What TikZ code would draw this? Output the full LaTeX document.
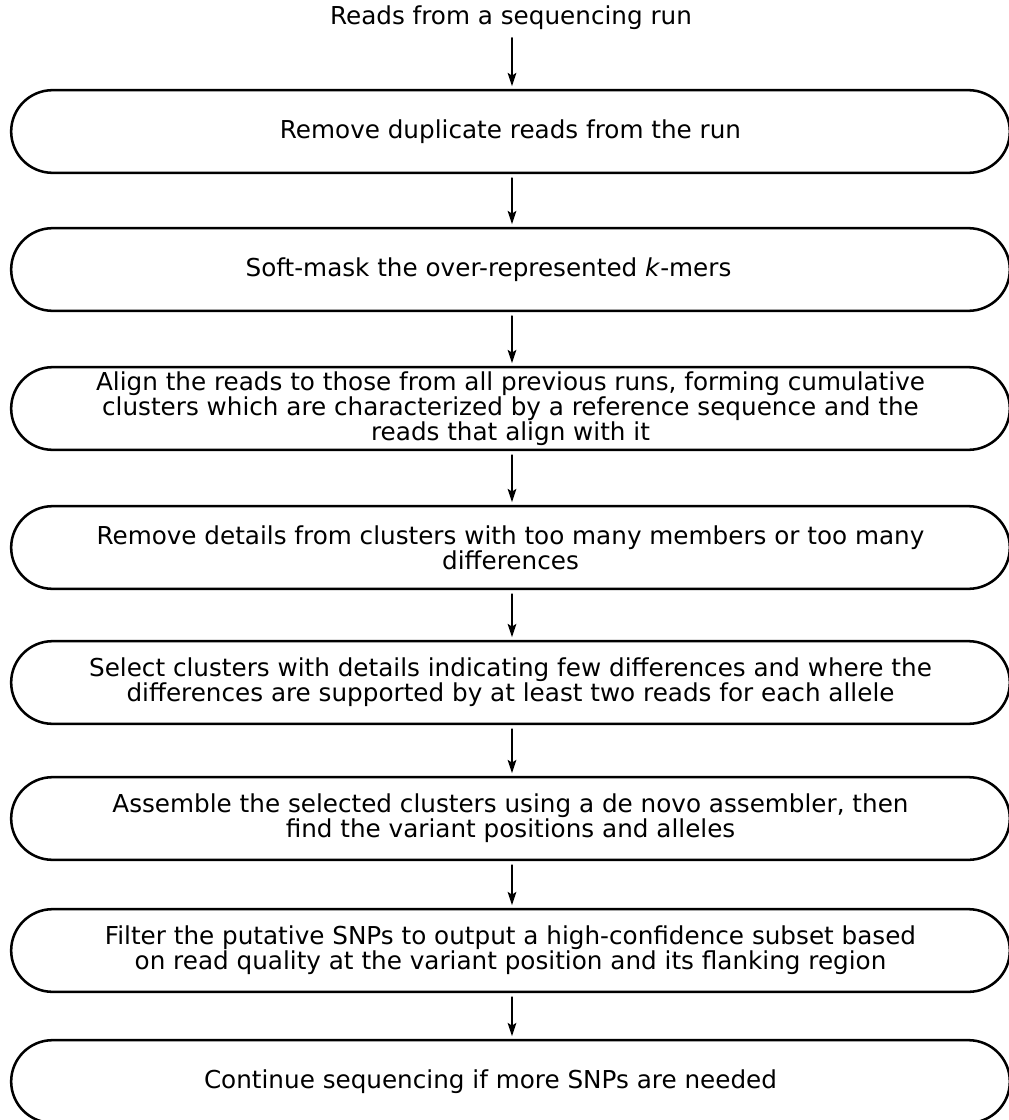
\documentclass[tikz,border=0pt]{standalone}
\usepackage{fontspec}
\setmainfont{DejaVu Sans}
\usetikzlibrary{arrows.meta,positioning}
\tikzset{
 stepbox/.style={draw=black,line width=1.9pt,rounded corners=31pt,
  minimum width=749pt,minimum height=62pt,align=center,inner sep=0pt,
  font=\fontsize{18.5pt}{17.2pt}\selectfont},
 flowarrow/.style={-{Stealth[length=10pt,width=6.5pt,inset=2pt]},line width=1.2pt,
  shorten <=3pt,shorten >=2pt}
}
\begin{document}
\begin{tikzpicture}[x=0.75pt,y=-0.75pt,line cap=round,line join=round]
% 1 jednostka = 1 piksel obrazu 1008x1120, os y w dol.
\useasboundingbox (0,0) rectangle (1008,1120);
\node[font=\fontsize{18.5pt}{17.2pt}\selectfont,inner sep=0pt,outer sep=3pt] (reads) at (511,18) {Reads from a sequencing run};
\node[stepbox] (s1) at (510.5,131.5) {Remove duplicate reads from the run};
\node[stepbox] (s2) at (510.5,269.5) {Soft-mask the over-represented \textit{k}-mers\hspace*{33pt}};
\node[stepbox] (s3) at (510.5,408.5) {Align the reads to those from all previous runs, forming cumulative\\
 clusters which are characterized by a reference sequence and the\\ reads that align with it};
\node[stepbox] (s4) at (510.5,547.5) {Remove details from clusters with too many members or too many\\ differences};
\node[stepbox] (s5) at (510.5,682.5) {Select clusters with details indicating few differences and where the\\
 differences are supported by at least two reads for each allele};
\node[stepbox] (s6) at (510.5,818.5) {Assemble the selected clusters using a de novo assembler, then\\
 find the variant positions and alleles};
\node[stepbox] (s7) at (510.5,950.5) {Filter the putative SNPs to output a high-confidence subset based\\
 on read quality at the variant position and its flanking region};
\node[stepbox] (s8) at (510.5,1081.5) {Continue sequencing if more SNPs are needed\hspace*{30pt}};
% strzalki miedzy krokami
\draw[flowarrow] (reads.south -| 512,0) -- (s1.north -| 512,0);
\foreach \a/\b in {s1/s2,s2/s3,s3/s4,s4/s5,s5/s6,s6/s7,s7/s8}{
 \draw[flowarrow] (\a.south -| 512,0) -- (\b.north -| 512,0);}
\end{tikzpicture}
\end{document}
